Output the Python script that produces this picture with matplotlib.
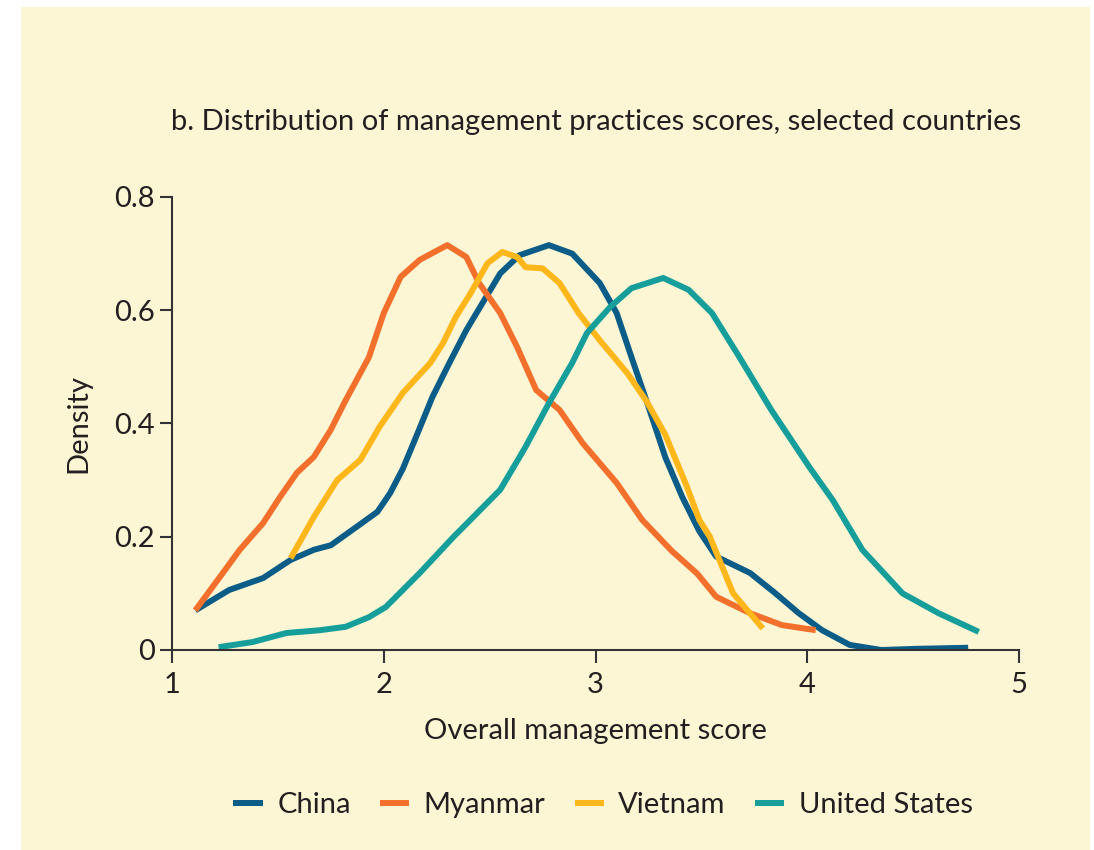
import matplotlib
matplotlib.use("Agg")
from matplotlib import pyplot as plt
from matplotlib.patches import Rectangle

plt.rcParams['font.family'] = ['Lato', 'DejaVu Sans']

# data (score, density)
china_x = [1.11, 1.27, 1.43, 1.56, 1.67, 1.75, 1.87, 1.97, 2.03, 2.09, 2.16, 2.23, 2.31, 2.39,
           2.55, 2.64, 2.78, 2.89, 3.02, 3.10, 3.17, 3.25, 3.33, 3.41, 3.49, 3.57, 3.73, 3.85,
           3.96, 4.07, 4.20, 4.35, 4.51, 4.76]
china_y = [0.07, 0.106, 0.127, 0.159, 0.177, 0.185, 0.217, 0.244, 0.277, 0.32, 0.383, 0.447,
           0.507, 0.565, 0.665, 0.697, 0.715, 0.70, 0.648, 0.595, 0.517, 0.43, 0.34, 0.27,
           0.21, 0.165, 0.136, 0.10, 0.065, 0.035, 0.009, 0.0, 0.002, 0.004]

myanmar_x = [1.11, 1.24, 1.32, 1.43, 1.51, 1.59, 1.67, 1.75, 1.82, 1.93, 2.00, 2.08, 2.17, 2.30,
             2.39, 2.45, 2.55, 2.63, 2.72, 2.83, 2.94, 3.10, 3.22, 3.36, 3.48, 3.57, 3.73,
             3.88, 4.04]
myanmar_y = [0.07, 0.136, 0.177, 0.224, 0.27, 0.313, 0.341, 0.389, 0.441, 0.517, 0.595, 0.659,
             0.689, 0.715, 0.694, 0.648, 0.595, 0.535, 0.459, 0.424, 0.365, 0.295, 0.23,
             0.175, 0.135, 0.094, 0.065, 0.044, 0.035]

vietnam_x = [1.56, 1.67, 1.78, 1.89, 1.98, 2.09, 2.22, 2.28, 2.34, 2.41, 2.49, 2.56, 2.63, 2.67,
             2.75, 2.83, 2.92, 3.02, 3.15, 3.24, 3.33, 3.43, 3.49, 3.54, 3.65, 3.79]
vietnam_y = [0.162, 0.235, 0.30, 0.336, 0.394, 0.454, 0.507, 0.542, 0.588, 0.630, 0.683, 0.703,
             0.694, 0.676, 0.674, 0.648, 0.595, 0.547, 0.489, 0.44, 0.38, 0.29, 0.23, 0.2,
             0.10, 0.038]

us_x = [1.22, 1.38, 1.54, 1.70, 1.82, 1.93, 2.01, 2.17, 2.33, 2.41, 2.55, 2.67, 2.78, 2.89,
        2.96, 3.07, 3.17, 3.32, 3.44, 3.55, 3.68, 3.83, 4.01, 4.12, 4.26, 4.45, 4.62, 4.81]
us_y = [0.005, 0.014, 0.03, 0.035, 0.041, 0.058, 0.076, 0.136, 0.2, 0.23, 0.283, 0.359, 0.436,
        0.507, 0.56, 0.606, 0.639, 0.657, 0.636, 0.595, 0.517, 0.424, 0.323, 0.265, 0.177,
        0.10, 0.065, 0.032]

series = [("China", china_x, china_y, "#0b5d87"),
          ("Myanmar", myanmar_x, myanmar_y, "#f2702c"),
          ("Vietnam", vietnam_x, vietnam_y, "#fdb71a"),
          ("United States", us_x, us_y, "#169e9b")]

fig = plt.figure(figsize=(10.94, 8.5), dpi=100)
fig.patch.set_facecolor("white")
fig.patches.append(Rectangle((21/1094, 0), 1069/1094, 843/850, transform=fig.transFigure,
                             facecolor="#fdf6d5", edgecolor="none", zorder=-10))

ax = fig.add_axes([172/1094, 1-650/850, 847/1094, 453/850])
ax.set_facecolor("none")
ax.set_zorder(5)

for name, xs, ys, c in series:
    ax.plot(xs, ys, color=c, lw=4.3, label=name, solid_capstyle="butt",
            solid_joinstyle="round")

ax.set_xlim(1, 5)
ax.set_ylim(0, 0.8)
ax.set_xticks([1, 2, 3, 4, 5])
ax.set_yticks([0, 0.2, 0.4, 0.6, 0.8])
ax.set_yticklabels(["0", "0.2", "0.4", "0.6", "0.8"])
for s in ["top", "right"]:
    ax.spines[s].set_visible(False)
for s in ["left", "bottom"]:
    ax.spines[s].set_color("#333333")
    ax.spines[s].set_linewidth(1.5)
ax.tick_params(colors="#333333", width=1.5, length=9, labelsize=21, labelcolor="#231f20")
ax.tick_params(axis="x", pad=7)

ax.set_xlabel("Overall management score", fontsize=21, color="#231f20", labelpad=14)
ax.set_ylabel("Density", fontsize=21, color="#231f20", labelpad=16)
fig.text(596/1094, 1-122/850, "b. Distribution of management practices scores, selected countries",
         ha="center", va="center", fontsize=21, color="#231f20")

fig.legend(loc="center", bbox_to_anchor=(603/1094, 1-805/850), ncol=4, frameon=False,
           fontsize=21, handlelength=1.0, handletextpad=0.5, columnspacing=1.0,
           labelcolor="#231f20")

fig.savefig("out.png", dpi=100, facecolor=fig.get_facecolor())
